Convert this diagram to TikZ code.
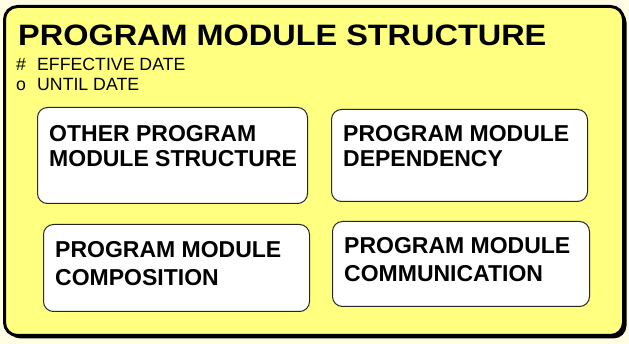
\documentclass[tikz,border=0pt]{standalone}
\usepackage{fontspec}
\setmainfont{Liberation Sans}
\usepackage{graphicx}
\definecolor{pagebg}{RGB}{255,253,228}
\definecolor{panelyellow}{RGB}{255,255,128}

\begin{document}
\begin{tikzpicture}[x=1pt,y=-1pt,
  panel/.style={draw=black,line width=3pt,fill=panelyellow,rounded corners=13pt},
  modbox/.style={draw=black!85,line width=1pt,fill=white,rounded corners=10pt,
    anchor=north west,inner sep=0pt},
  modtext/.style={anchor=north west,align=left,inner sep=0pt,
    font=\bfseries\fontsize{23}{25}\selectfont},
  keytext/.style={anchor=base west,inner sep=0pt,font=\fontsize{17.7}{20}\selectfont}]
  \fill[pagebg] (0,0) rectangle (629,344);
  \useasboundingbox (0,0) rectangle (629,344);
  % outer panel with its shadow
  \fill[black,rounded corners=13pt] (7.5,9.5) rectangle (626.5,338.5);
  \draw[panel] (4.5,6.5) rectangle (623.5,335.5);
  \node[anchor=base west,inner sep=0pt,font=\bfseries\fontsize{29.5}{32}\selectfont]
    (title) at (18,46) {\scalebox{1.1}[1]{PROGRAM MODULE STRUCTURE}};
  \node[keytext] (effective) at (16,71) {\makebox[21pt][l]{\#}EFFECTIVE DATE};
  \node[keytext] (until) at (16,91) {\makebox[21pt][l]{o}UNTIL DATE};
  % the four sub-structures
  \node[modbox,minimum width=270pt,minimum height=96pt] (other) at (37,107) {};
  \node[modbox,minimum width=256pt,minimum height=92pt] (dependency) at (331,109) {};
  \node[modbox,minimum width=266pt,minimum height=87pt] (composition) at (43,224) {};
  \node[modbox,minimum width=257pt,minimum height=85pt] (communication) at (332,221) {};
  \node[modtext] (otherlbl) at ([shift={(12,18)}]other.north west)
    {OTHER PROGRAM\\MODULE STRUCTURE};
  \node[modtext] (dependencylbl) at ([shift={(12,16)}]dependency.north west)
    {PROGRAM MODULE\\DEPENDENCY};
  \node[modtext] (compositionlbl) at ([shift={(12,17)}]composition.north west)
    {PROGRAM MODULE\\[3pt]COMPOSITION};
  \node[modtext] (communicationlbl) at ([shift={(12,16)}]communication.north west)
    {PROGRAM MODULE\\[3pt]COMMUNICATION};
\end{tikzpicture}
\end{document}
